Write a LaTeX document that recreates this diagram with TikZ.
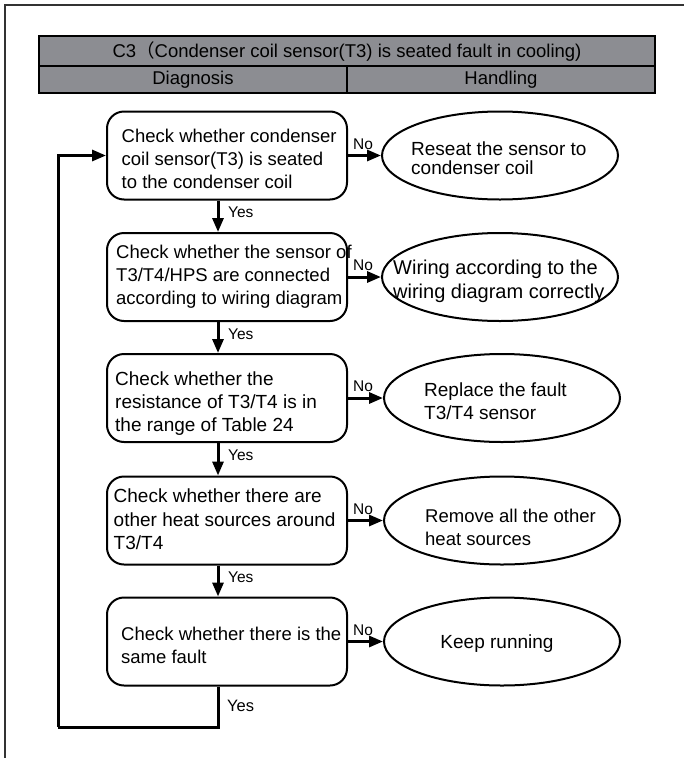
\documentclass[tikz,border=0pt]{standalone}
\usepackage{fontspec}
\setmainfont{Liberation Sans}
\newfontfamily\cjk{Noto Sans CJK SC}
\usetikzlibrary{shapes.geometric,arrows.meta}
\definecolor{hdrgray}{RGB}{140,141,146}
\begin{document}
\begin{tikzpicture}[x=1pt,y=-1pt,
  boxtext/.style={font=\fontsize{18.5}{23}\selectfont},
  bigtext/.style={font=\fontsize{19}{23.3}\selectfont},
  small/.style={font=\fontsize{15.5}{17}\selectfont},
  checkbox/.style={draw,line width=2pt,rounded corners=17pt,minimum width=240pt,minimum height=88pt,inner sep=0pt},
  oval/.style={draw,ellipse,line width=2pt,minimum width=236pt,minimum height=88pt,inner sep=0pt},
  lefttext/.style={anchor=west,align=left,inner sep=0pt,boxtext},
  hdr/.style={draw,line width=2.4pt,fill=hdrgray,inner sep=0pt,boxtext},
  flow/.style={line width=3pt,-{Triangle[length=14pt,width=11pt]}},
  loopline/.style={line width=3pt},
  frameline/.style={line width=1.3pt,draw=black!80},
  nolabel/.style={small,anchor=south west,inner sep=0pt,xshift=5pt,yshift=6pt},
  yeslabel/.style={small,anchor=west,inner sep=0pt,xshift=10pt,yshift=-12pt}
]
\useasboundingbox (0,0) rectangle (684,758);
% frame
\coordinate (fl) at (5,758);
\coordinate (fc) at (5,5);
\coordinate (fr) at (684,5);
\draw[frameline] (fl) -- (fc) -- (fr);
% header table
\node[hdr,minimum width=616pt,minimum height=30pt] (title) at (347,51) {C3{\cjk （}Condenser coil sensor(T3) is seated fault in cooling)};
\node[hdr,minimum width=308pt,minimum height=27pt] (diag) at (193,79.5) {Diagnosis};
\node[hdr,minimum width=308pt,minimum height=27pt] (hand) at (501,79.5) {Handling};
% boxes
\node[checkbox] (b1) at (227,155.5) {};
\node[checkbox] (b2) at (227,277) {};
\node[checkbox] (b3) at (227,398) {};
\node[checkbox] (b4) at (227,520.5) {};
\node[checkbox] (b5) at (227,641.5) {};
\node[lefttext] (bt1) at (121.5,158.5) {Check whether condenser\\coil sensor(T3) is seated\\to the condenser coil};
\node[lefttext] (bt2) at (116,276.5) {Check whether the sensor of\\T3/T4/HPS are connected\\according to wiring diagram};
\node[lefttext,bigtext] (bt3) at (115,403.5) {Check whether the\\resistance of T3/T4 is in\\the range of Table 24};
\node[lefttext,bigtext] (bt4) at (113.5,519.5) {Check whether there are\\other heat sources around\\T3/T4};
\node[lefttext] (bt5) at (121,645) {Check whether there is the\\same fault};
% ovals
\node[oval] (e1) at (500,155.5) {};
\node[oval] (e2) at (500,277) {};
\node[oval] (e3) at (502,398) {};
\node[oval] (e4) at (502,520.5) {};
\node[oval] (e5) at (502,641.5) {};
\node[lefttext,font=\fontsize{19}{19.5}\selectfont] (t1) at (411,158) {Reseat the sensor to\\condenser coil};
\node[lefttext,font=\fontsize{20}{24}\selectfont] (t2) at (393,281) {Wiring according to the\\wiring diagram correctly};
\node[lefttext,bigtext] (t3) at (424,401) {Replace the fault\\T3/T4 sensor};
\node[lefttext] (t4) at (425,527) {Remove all the other\\heat sources};
\node[bigtext] (t5) at (497,644) {Keep running};
% horizontal arrows
\draw[flow] (b1.east) -- (e1.west);
\draw[flow] (b2.east) -- (e2.west);
\draw[flow] (b3.east) -- (e3.west);
\draw[flow] (b4.east) -- (e4.west);
\draw[flow] (b5.east) -- (e5.west);
\node[nolabel] (n1) at (b1.east) {No};
\node[nolabel] (n2) at (b2.east) {No};
\node[nolabel] (n3) at (b3.east) {No};
\node[nolabel] (n4) at (b4.east) {No};
\node[nolabel] (n5) at (b5.east) {No};
% vertical arrows
\coordinate (vx) at (218,0);
\draw[flow] (b1.south -| vx) -- (b2.north -| vx);
\draw[flow] (b2.south -| vx) -- (b3.north -| vx);
\draw[flow] (b3.south -| vx) -- (b4.north -| vx);
\draw[flow] (b4.south -| vx) -- (b5.north -| vx);
\node[yeslabel] (y1) at (b1.south -| vx) {Yes};
\node[yeslabel] (y2) at (b2.south -| vx) {Yes};
\node[yeslabel] (y3) at (b3.south -| vx) {Yes};
\node[yeslabel] (y4) at (b4.south -| vx) {Yes};
\node[small,font=\fontsize{16.5}{18}\selectfont,anchor=west,inner sep=0pt] (y5) at (227,706) {Yes};
% loop back
\coordinate (lb) at (58,727);
\draw[loopline] (b5.south -| vx) |- (lb);
\draw[flow] (lb) |- (b1.west);
\end{tikzpicture}
\end{document}
